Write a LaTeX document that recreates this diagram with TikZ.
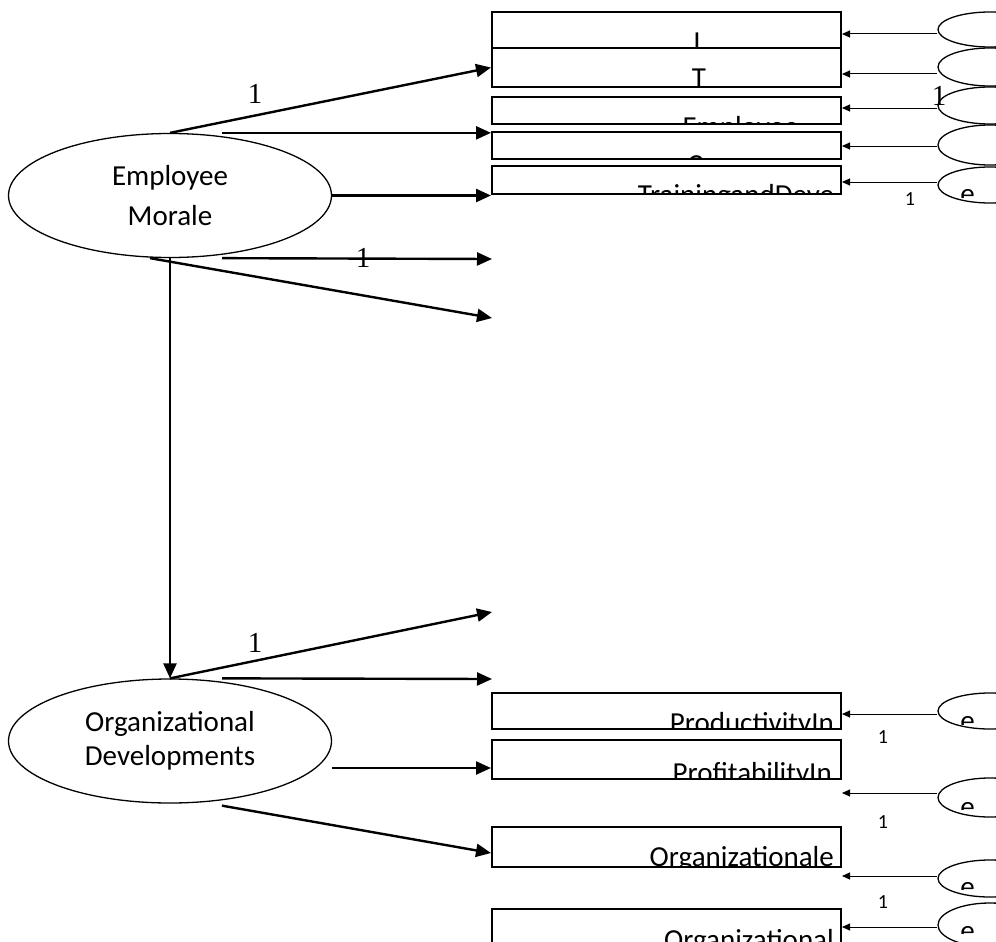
\documentclass[tikz,border=0pt]{standalone}
\usepackage{fontspec}
\setmainfont{Carlito}
\newfontfamily\serifone{Liberation Serif}
\usetikzlibrary{shapes.geometric, arrows.meta}

\tikzset{
  latent/.style={draw, ellipse, line width=1.3pt, minimum width=323pt, minimum height=124pt, inner sep=0pt, align=center},
  obsbox/.style={draw, line width=2pt, minimum width=349pt, inner sep=0pt},
  errnode/.style={draw, ellipse, line width=1.3pt, minimum width=104pt, inner sep=0pt},
  load/.style={line width=2.4pt, -{Triangle[length=15pt, width=13pt]}},
  errarrow/.style={line width=1pt, -{Triangle[length=8pt, width=7pt]}},
  txt/.style={inner sep=0pt, font=\fontsize{29}{35}\selectfont},
  onelbl/.style={inner sep=0pt, anchor=base, font=\serifone\fontsize{29}{35}\selectfont},
  smallone/.style={inner sep=0pt, anchor=base, font=\fontsize{20}{24}\selectfont}
}

% text cut off at a given height
\newcommand{\cuttext}[6]{%
  \begin{scope}
    \clip (0,0) rectangle (996,#5);
    \node[txt, anchor=#2] (#1) at (#3,#4) {#6};
  \end{scope}}

\begin{document}
\begin{tikzpicture}[x=1pt, y=-1pt]
        \path[use as bounding box] (0,0) rectangle (996,942);
        \clip (0,0) rectangle (996,942);

        % latent variables
        \node[latent, font=\fontsize{29}{40}\selectfont] (em) at (170,195.5) {Employee\\Morale};
        \node[latent, font=\fontsize{29}{34}\selectfont] (od) at (170,741) {Organizational\\Developments};

        % indicator boxes
        \node[obsbox, minimum height=36pt] (b1) at (666.5,30) {};
        \node[obsbox, minimum height=39pt] (b2) at (666.5,67.5) {};
        \node[obsbox, minimum height=27pt] (b3) at (666.5,110.5) {};
        \node[obsbox, minimum height=27pt] (b4) at (666.5,145.5) {};
        \node[obsbox, minimum height=28pt] (b5) at (666.5,180) {};
        \node[obsbox, minimum height=36pt] (p1) at (666.5,711) {};
        \node[obsbox, minimum height=39pt] (p2) at (666.5,759.5) {};
        \node[obsbox, minimum height=40pt] (p3) at (666.5,847) {};
        \node[obsbox, minimum height=42pt] (p4) at (666.5,930) {};

        \cuttext{t1}{base}{697}{52}{48}{I}
        \cuttext{t2}{base}{699}{88}{87}{T}
        \cuttext{t3}{base}{740.5}{136}{124}{Employee}
        \cuttext{t4}{base}{695}{174}{159}{C}
        \cuttext{t5}{base}{736}{204}{194}{TrainingandDeve}
        \cuttext{t6}{base east}{834}{732}{729}{ProductivityIn}
        \cuttext{t7}{base east}{832}{782}{779}{ProfitabilityIn}
        \cuttext{t8}{base east}{834}{866}{867}{Organizationale}
        \cuttext{t9}{base east}{834}{949}{960}{Organizational}

        % error terms
        \node[errnode, minimum height=35pt] (e1) at (990,29.5) {};
        \node[errnode, minimum height=38pt] (e2) at (990,67) {};
        \node[errnode, minimum height=37pt] (e3) at (990,105.5) {};
        \node[errnode, minimum height=40pt] (e4) at (990,145) {};
        \node[errnode, minimum height=36pt] (e5) at (990,185) {};
        \node[errnode, minimum height=36pt] (f1) at (990,711) {};
        \node[errnode, minimum height=39pt] (f2) at (990,797.5) {};
        \node[errnode, minimum height=37pt] (f3) at (990,878.5) {};
        \node[errnode, minimum height=44pt] (f4) at (990,925) {};

        \cuttext{e5t}{base}{967.5}{203.5}{197}{e}
        \cuttext{f1t}{base}{967.5}{730.5}{724}{e}
        \cuttext{f2t}{base}{967.5}{816.5}{809}{e}
        \cuttext{f3t}{base}{967.5}{896.5}{889}{e}
        \cuttext{f4t}{base}{967.5}{940.5}{933}{e}

        % loadings
        \coordinate (m2) at ([xshift=52]em.north);
        \coordinate (m4) at (492,259);
        \coordinate (m5) at (492,318);
        \coordinate (d1) at (492,612);
        \coordinate (d2) at (492,679);
        \draw[load] (em.north) -- (b2.west);
        \draw[load] (m2) -- (m2 -| b4.west);
        \draw[load] (em.east) -- (em.east -| b5.west);
        \draw[load] ([xshift=52]em.south) -- (m4);
        \draw[load] ([xshift=-20]em.south) -- (m5);
        \draw[load] (em.south) -- (od.north);
        \draw[load] (od.north) -- (d1);
        \draw[load] ([xshift=52]od.north) -- (d2);
        \draw[load] ([yshift=-27]od.east) -- ([yshift=-27]od.east -| p2.west);
        \draw[load] ([xshift=52, yshift=-2]od.south) -- ([yshift=-6]p3.west);

        \foreach \e/\b/\dy in {e1/b1/-4.5, e2/b2/-7, e3/b3/-2.5, e4/b4/-1, e5/b5/3, f1/p1/-3, f2/p2/4.5, f3/p3/2.5, f4/p4/-2}
            \draw[errarrow] ([yshift=\dy]\e.west) -- ([yshift=\dy]\e.west -| \b.east);

        % fixed weights
        \node[onelbl] (w1) at (255,103) {1};
        \node[onelbl] (w2) at (363,267) {1};
        \node[onelbl] (w3) at (255,652) {1};
        \node[onelbl] (w4) at (939,106) {1};
        \node[smallone] (v1) at (910,205) {1};
        \node[smallone] (v2) at (883,743) {1};
        \node[smallone] (v3) at (883,828) {1};
        \node[smallone] (v4) at (883,908) {1};
    \end{tikzpicture}
\end{document}
